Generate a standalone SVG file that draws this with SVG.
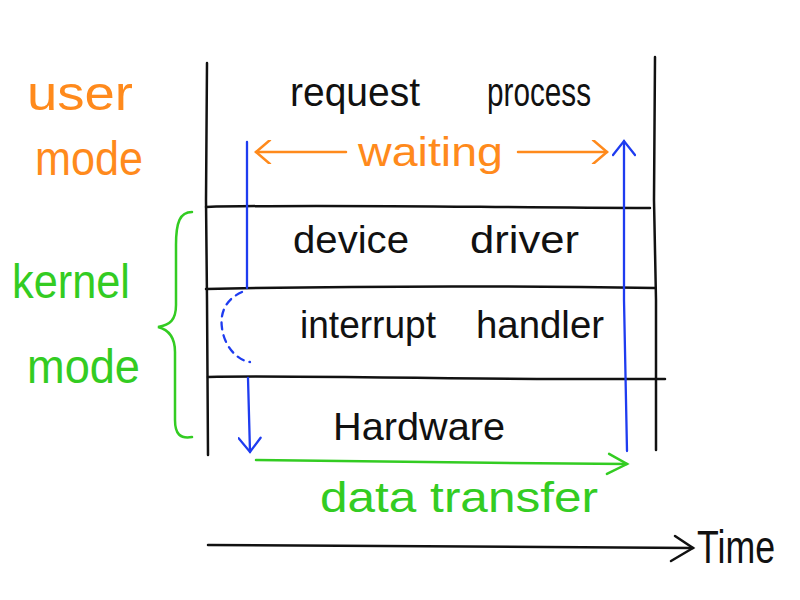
<svg xmlns="http://www.w3.org/2000/svg" width="800" height="600" viewBox="0 0 800 600">
<style>
.ln{fill:none;stroke:#111;stroke-width:2.5;stroke-linecap:round}
.bl{fill:none;stroke:#1e3cf0;stroke-width:2.3;stroke-linecap:round}
.or{fill:none;stroke:#ff8a1c;stroke-width:2.5;stroke-linecap:round}
.gr{fill:none;stroke:#33cc22;stroke-width:2.5;stroke-linecap:round}
text{font-family:"Liberation Sans","DejaVu Sans",sans-serif;font-size:38px}
.tk{fill:#111}
.to{fill:#ff8a1c}
.tg{fill:#33cc22}
.side{font-size:48px}
</style>
<defs>
<marker id="hb" viewBox="-16 -12 20 24" markerWidth="20" markerHeight="24" refX="0" refY="0" orient="auto-start-reverse" markerUnits="userSpaceOnUse">
<path d="M-14,-11 L0,0 L-14,11" fill="none" stroke="#1e3cf0" stroke-width="2.3" stroke-linecap="round"/>
</marker>
<marker id="ho" viewBox="-16 -12 20 24" markerWidth="20" markerHeight="24" refX="0" refY="0" orient="auto-start-reverse" markerUnits="userSpaceOnUse">
<path d="M-14,-12 L0,0 L-14,12" fill="none" stroke="#ff8a1c" stroke-width="2.5" stroke-linecap="round"/>
</marker>
<marker id="hg" viewBox="-22 -12 26 24" markerWidth="26" markerHeight="24" refX="0" refY="0" orient="auto" markerUnits="userSpaceOnUse">
<path d="M-18,-10 L0,0 L-20,10" fill="none" stroke="#33cc22" stroke-width="2.5" stroke-linecap="round"/>
</marker>
<marker id="hk" viewBox="-24 -16 28 32" markerWidth="28" markerHeight="32" refX="0" refY="0" orient="auto" markerUnits="userSpaceOnUse">
<path d="M-18,-12 L0,0 L-22,13" fill="none" stroke="#111" stroke-width="2.5" stroke-linecap="round"/>
</marker>
</defs>
<rect width="800" height="600" fill="#fff"/>

<g id="frame">
<path class="ln" d="M207,63 L206,200 L207,300 L208,455"/>
<path class="ln" d="M655,57 L654,200 L656,300 L656,450"/>
</g>

<g id="user-layer">
<text class="tk" x="290" y="106" textLength="130" lengthAdjust="spacingAndGlyphs" style="font-size:40px">request</text>
<text class="tk" x="487" y="106" textLength="104" lengthAdjust="spacingAndGlyphs" style="font-size:40px">process</text>
</g>

<g id="device-driver">
<path class="ln" d="M206,207 C300,204 450,207 650,208"/>
<text class="tk" x="293" y="253" textLength="116" lengthAdjust="spacingAndGlyphs">device</text>
<text class="tk" x="470" y="253" textLength="109" lengthAdjust="spacingAndGlyphs">driver</text>
</g>

<g id="interrupt-handler">
<path class="ln" d="M206,289 C300,287 450,285 655,288"/>
<text class="tk" x="300" y="338" textLength="136" lengthAdjust="spacingAndGlyphs">interrupt</text>
<text class="tk" x="476" y="338" textLength="128" lengthAdjust="spacingAndGlyphs">handler</text>
</g>

<g id="hardware">
<path class="ln" d="M208,377 C300,375 450,380 665,379"/>
<text class="tk" x="333" y="440" textLength="172" lengthAdjust="spacingAndGlyphs">Hardware</text>
</g>

<g id="user-mode">
<text class="to side" x="27" y="110" textLength="106" lengthAdjust="spacingAndGlyphs">user</text>
<text class="to side" x="35" y="175" textLength="108" lengthAdjust="spacingAndGlyphs">mode</text>
</g>

<g id="kernel-mode">
<text class="tg side" x="12" y="298" textLength="118" lengthAdjust="spacingAndGlyphs">kernel</text>
<text class="tg side" x="27" y="383" textLength="113" lengthAdjust="spacingAndGlyphs">mode</text>
<path class="gr" d="M192,212 C180,212 176,222 176,245 L176,305 C176,320 170,325 158,327 C170,330 175,338 175,352 L175,420 C175,434 180,439 192,437"/>
</g>

<g id="connectors">
<path class="bl" d="M247,142 L247,288"/>
<path class="bl" d="M242,292 C224,300 220,315 222,328 C224,345 236,360 250,362" stroke-dasharray="7,6"/>
<path class="bl" d="M248,378 L250,452" marker-end="url(#hb)"/>
<path class="bl" d="M627,451 L624,300 L624,141" marker-end="url(#hb)"/>
<path class="or" d="M346,152 L256,152" marker-end="url(#ho)"/>
<path class="or" d="M518,152 L607,152" marker-end="url(#ho)"/>
<text class="to" x="358" y="166" textLength="145" lengthAdjust="spacingAndGlyphs" style="font-size:40px">waiting</text>
<path class="gr" d="M256,460 C400,462 500,463 627,464" marker-end="url(#hg)"/>
<text class="tg" x="320" y="512" textLength="278" lengthAdjust="spacingAndGlyphs" style="font-size:42px">data transfer</text>
<path class="ln" d="M208,545 C350,545 500,548 693,548" marker-end="url(#hk)"/>
<text class="tk" x="697" y="563" textLength="78" lengthAdjust="spacingAndGlyphs" style="font-size:46px">Time</text>
</g>
</svg>
